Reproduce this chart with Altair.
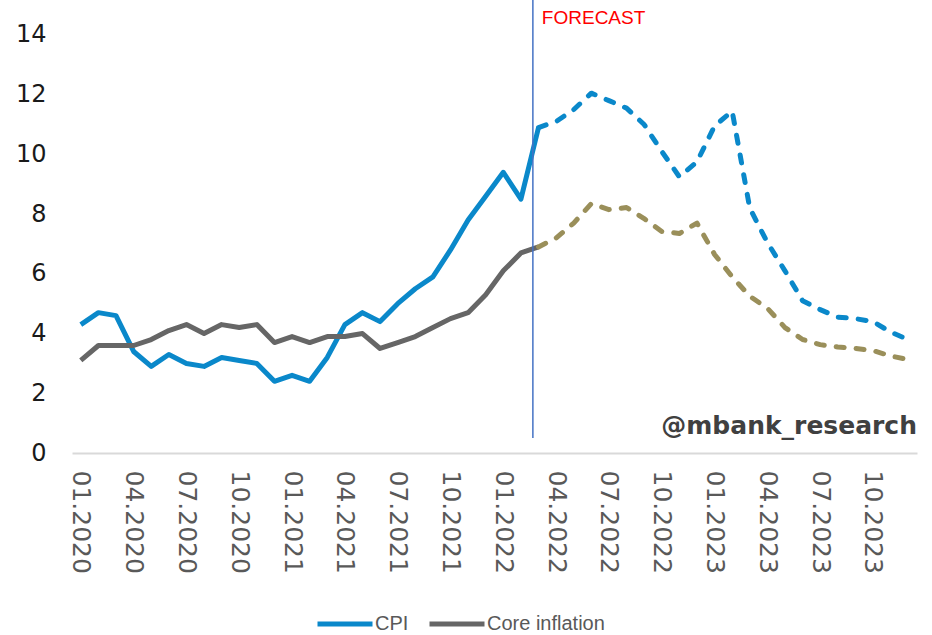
import altair as alt
import pandas as pd

# ---- data ----
# month index: 0 = 01.2020 ... 47 = 12.2023
hist_idx = list(range(0, 27))
cpi_hist = [4.3, 4.7, 4.6, 3.4, 2.9, 3.3, 3.0, 2.9, 3.2, 3.1, 3.0, 2.4,
            2.6, 2.4, 3.2, 4.3, 4.7, 4.4, 5.0, 5.5, 5.9, 6.8, 7.8, 8.6,
            9.4, 8.5, 10.9]
core_hist = [3.1, 3.6, 3.6, 3.6, 3.8, 4.1, 4.3, 4.0, 4.3, 4.2, 4.3, 3.7,
             3.9, 3.7, 3.9, 3.9, 4.0, 3.5, 3.7, 3.9, 4.2, 4.5, 4.7, 5.3,
             6.1, 6.7, 6.9]
fc_idx = list(range(26, 48))
cpi_fc = [10.9, 11.1, 11.5, 12.05, 11.8, 11.55, 11.0, 10.1, 9.25, 9.75, 10.95,
          11.45, 8.2, 7.05, 6.1, 5.1, 4.8, 4.55, 4.5, 4.4, 4.05, 3.8]
core_fc = [6.9, 7.2, 7.7, 8.35, 8.15, 8.22, 7.85, 7.42, 7.35, 7.7, 6.65,
           5.9, 5.25, 4.85, 4.2, 3.8, 3.63, 3.55, 3.5, 3.43, 3.25, 3.13]
series_names = ["CPI", "Core inflation"]
x_tick_idx = list(range(0, 48, 3))
y_ticks = [0, 2, 4, 6, 8, 10, 12, 14]
forecast_at = 25.68
annotations = ["FORECAST", "@mbank_research"]

BLUE = "#0A88CA"
GRAY = "#666666"
GOLD = "#9A8F5A"

hist = pd.DataFrame({
    "idx": hist_idx * 2,
    "value": cpi_hist + core_hist,
    "series": [series_names[0]] * len(hist_idx) + [series_names[1]] * len(hist_idx),
})
fc_cpi = pd.DataFrame({"idx": fc_idx, "value": cpi_fc})
fc_core = pd.DataFrame({"idx": fc_idx, "value": core_fc})

xscale = alt.Scale(domain=[-0.5, 47.5], nice=False, zero=False)
yscale = alt.Scale(domain=[0, 15.17], nice=False, zero=True)

label_expr = ("(datum.value % 12 < 9 ? '0' : '') + (datum.value % 12 + 1) + '.' + "
              "(2020 + floor(datum.value / 12))")

x_axis = alt.Axis(values=x_tick_idx, labelExpr=label_expr, labelAngle=90,
                  labelAlign="left", labelBaseline="middle", labelFontSize=25,
                  labelFont="DejaVu Sans", labelColor="#595959", labelPadding=17,
                  ticks=False, grid=False, domainColor="#D9D9D9", domainWidth=2,
                  title=None, labelOverlap=False, labelBound=False, labelFlush=False)
y_axis = alt.Axis(values=y_ticks, labelFontSize=24, labelFont="DejaVu Sans",
                  labelColor="#1a1a1a", labelPadding=26, domain=False, ticks=False,
                  grid=False, title=None)

X = alt.X("idx:Q", scale=xscale, axis=x_axis)
Y = alt.Y("value:Q", scale=yscale, axis=y_axis)

hist_layer = alt.Chart(hist).mark_line(strokeWidth=5, strokeJoin="round", strokeCap="butt").encode(
    x=X,
    y=Y,
    color=alt.Color("series:N",
                    scale=alt.Scale(domain=series_names, range=[BLUE, GRAY]),
                    legend=alt.Legend(orient="none", legendX=243, legendY=594,
                                      direction="horizontal", title=None,
                                      symbolType="stroke", symbolSize=3025,
                                      symbolStrokeWidth=5, labelFontSize=20,
                                      labelFont="Liberation Sans", labelColor="#595959",
                                      labelOffset=0, columnPadding=10, padding=0)),
    detail="series:N",
)

dash_cpi = alt.Chart(fc_cpi).mark_line(strokeWidth=5, strokeDash=[8, 12], strokeCap="round",
                                       strokeJoin="round", color=BLUE).encode(x=X, y=Y)
dash_core = alt.Chart(fc_core).mark_line(strokeWidth=5, strokeDash=[8, 12], strokeCap="round",
                                         strokeJoin="round", color=GOLD).encode(x=X, y=Y)

rule_df = pd.DataFrame({"idx": [forecast_at], "value": [0.5], "value2": [15.17]})
rule = alt.Chart(rule_df).mark_rule(color="#4472C4", strokeWidth=1.5).encode(
    x=X, y=Y, y2="value2:Q",
)

fc_text_df = pd.DataFrame({"idx": [26.19], "value": [14.37], "t": [annotations[0]]})
fc_text = alt.Chart(fc_text_df).mark_text(align="left", baseline="alphabetic", fontSize=19,
                                          font="Liberation Sans", color="#FF0000").encode(
    x=X, y=Y, text="t:N",
)

wm_df = pd.DataFrame({"idx": [47.5], "value": [0.62], "t": [annotations[1]]})
wm_text = alt.Chart(wm_df).mark_text(align="right", baseline="alphabetic", fontSize=25,
                                     font="DejaVu Sans", fontWeight="bold", color="#404040").encode(
    x=X, y=Y, text="t:N",
)

chart = alt.layer(hist_layer, dash_cpi, dash_core, rule, fc_text, wm_text).properties(
    width=845, height=453,
    padding={"left": 72, "top": 0, "right": 15, "bottom": 182},
    autosize=alt.AutoSizeParams(type="none"),
    background="white",
).configure_view(stroke=None)

chart.save("out.html", embed_options={"renderer": "svg", "actions": False})
